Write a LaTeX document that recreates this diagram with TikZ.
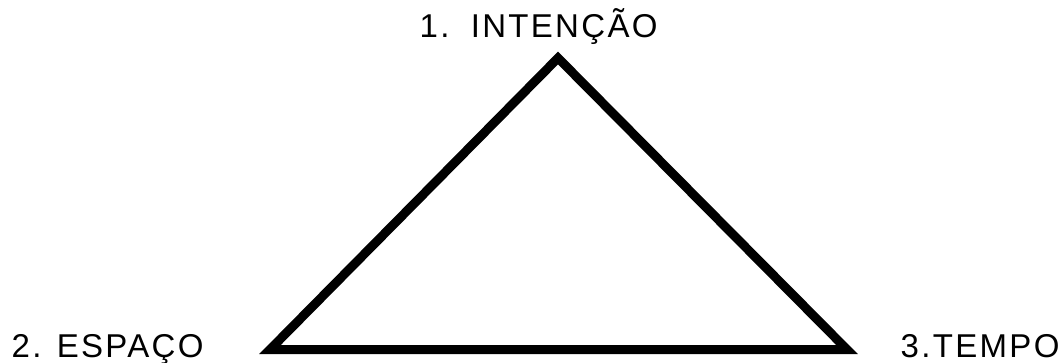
\documentclass[tikz,border=0pt]{standalone}
\usepackage{fontspec}
\setmainfont{Liberation Sans}[LetterSpace=7]
\begin{document}
\begin{tikzpicture}[x=1pt,y=-1pt,
  lbl/.style={inner sep=0pt,anchor=base west,font=\fontsize{33}{40}\selectfont},
  tri/.style={line width=9pt,line join=miter}]
\useasboundingbox (0,0) rectangle (1060,363);
\node[lbl] (t1) at (419.5,37.5) {1.\hspace{6pt} INTENÇÃO};
\node[lbl] (t2) at (11.5,357) {2. ESPAÇO};
\node[lbl] (t3) at (900.5,357) {3.TEMPO};
\coordinate (A) at (558,58);
\coordinate (B) at (270,349.5);
\coordinate (C) at (847,349.5);
\draw[tri] (A) -- (B) -- (C) -- cycle;
\end{tikzpicture}
\end{document}
